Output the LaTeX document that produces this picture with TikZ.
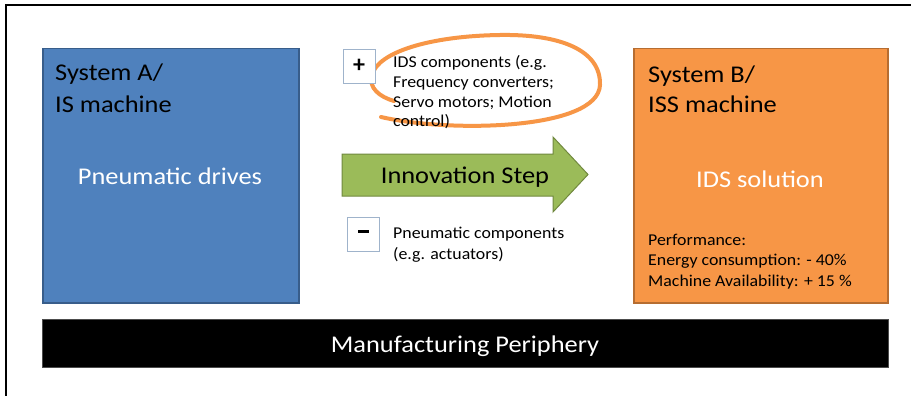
\documentclass[tikz,border=0pt]{standalone}
\usepackage{fontspec}
\setmainfont{Carlito}
\newfontfamily\wideA[FakeStretch=1.1]{Carlito}
\newfontfamily\wideB[FakeStretch=1.08]{Carlito}
\definecolor{blueF}{HTML}{4F81BD}
\definecolor{blueD}{HTML}{385D8A}
\definecolor{orangeF}{HTML}{F79646}
\definecolor{orangeD}{HTML}{B66D31}
\definecolor{greenF}{HTML}{9BBB59}
\definecolor{greenD}{HTML}{71893F}
\definecolor{smallD}{HTML}{9FB3CB}
\tikzset{
  sysbox/.style={anchor=north west, line width=1.5pt, inner sep=0pt},
  bigtxt/.style={font=\wideA\fontsize{24}{28}\selectfont, inner sep=0pt},
  smalltxt/.style={font=\wideB\fontsize{16.5}{20}\selectfont, inner sep=0pt, anchor=base west},
  signbox/.style={draw=smallD, fill=white, line width=0.8pt, minimum width=32pt, minimum height=34pt, inner sep=0pt, font=\fontsize{24}{28}\selectfont\bfseries},
}
\begin{document}
\begin{tikzpicture}[x=1pt,y=-1pt]
\useasboundingbox (0,0) rectangle (911,396);
\fill[white] (0,0) rectangle (911,396);
% frame
\draw[line width=2pt] (6,396) -- (6,5) -- (911,5);
% system A
\node[sysbox, fill=blueF, draw=blueD, minimum width=256pt, minimum height=254pt] (boxA) at (42,48) {};
\node[bigtxt, anchor=base west] (tA1) at (55,81) {System A/};
\node[bigtxt, anchor=base west] (tA2) at (55,113) {IS machine};
\node[bigtxt, anchor=base, text=white] (pA) at (170,184) {Pneumatic drives};
% system B
\node[sysbox, fill=orangeF, draw=orangeD, minimum width=254pt, minimum height=254pt] (boxB) at (633,48) {};
\node[bigtxt, anchor=base west] (tB1) at (648,82) {System B/};
\node[bigtxt, anchor=base west] (tB2) at (648,113) {ISS machine};
\node[bigtxt, anchor=base, text=white] (ids) at (760,187) {IDS solution};
\node[smalltxt] (perf1) at (648,245) {Performance:};
\node[smalltxt] (perf2) at (648,265) {Energy consumption: - 40\%};
\node[smalltxt] (perf3) at (648,286) {Machine Availability: + 15 \%};
% bottom bar
\node[sysbox, fill=black, draw=black!70, line width=1pt, minimum width=846pt, minimum height=48pt] (bar) at (42,319) {};
\node[bigtxt, text=white, anchor=base] (bart) at (465,352) {Manufacturing Periphery};
% innovation arrow
\draw[fill=greenF, draw=greenD, line width=1pt] (342,154) -- (553,154) -- (553,137) -- (588,174.5) -- (553,212) -- (553,196) -- (342,196) -- cycle;
\node[bigtxt, anchor=base] (inno) at (465,183) {Innovation Step};
% orange loop
\draw[orangeF, line width=4pt, line cap=round]
  (381,117) .. controls (450,133) and (598,130) .. (600,85)
  .. controls (601,50) and (560,34) .. (500,35)
  .. controls (430,36) and (378,52) .. (372,75)
  .. controls (368,88) and (380,97) .. (394,101);
% plus / minus
\node[signbox] (plus) at (359,66) {+};
\node[signbox] (minus) at (363.5,234) {\rule[0.2em]{0.45em}{2.6pt}};
\node[smalltxt] (c1) at (393,68) {IDS components (e.g.};
\node[smalltxt] (c2) at (393,88) {Frequency converters;};
\node[smalltxt] (c3) at (393,107) {Servo motors; Motion};
\node[smalltxt] (c4) at (393,126) {control)};
\node[smalltxt] (m1) at (393,238) {Pneumatic components};
\node[smalltxt] (m2) at (393,259) {(e.g. actuators)};
\end{tikzpicture}
\end{document}
